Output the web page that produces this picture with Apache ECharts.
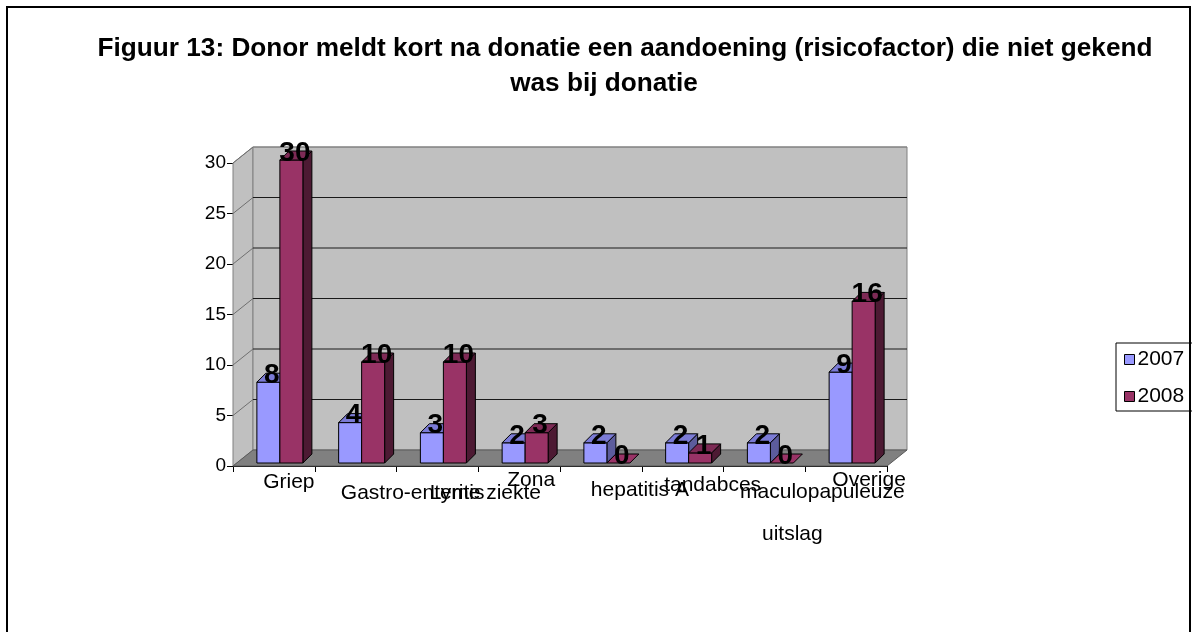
<!DOCTYPE html>
<html>
<head>
<meta charset="utf-8">
<script src="https://cdn.jsdelivr.net/npm/echarts@6/dist/echarts.min.js"></script>
<style>
  html, body { margin: 0; padding: 0; background: #ffffff; }
  #chart { width: 1192px; height: 632px; }
</style>
</head>
<body>
<div id="chart"></div>
<script>
// Reported conditions per category, per year
const categories = ['Griep', 'Gastro-enteritis', 'Lyme ziekte', 'Zona', 'hepatitis A', 'tandabces', 'maculopapuleuze uitslag', 'Overige'];
const values2007 = [8, 4, 3, 2, 2, 2, 2, 9];
const values2008 = [30, 10, 10, 3, 0, 1, 0, 16];
const yearNames = ['2007', '2008'];
const yTicks = [0, 5, 10, 15, 20, 25, 30];

// 3D look: depth of the walls and of the bars
const WALL_DX = 20, WALL_DY = -16;
const BAR_DX = 9, BAR_DY = -9;
const BAR_W = 23;
const BAR_LEFT = [-17, 6];          // left edge of each year's bar from category centre
const BAR_SET_BACK = -3;            // bars stand slightly behind the front edge
const FONT = '"Liberation Sans", Arial, sans-serif';

const palette = [
  { front: '#9999ff', top: '#7b7bd6', side: '#5c5c9c' },
  { front: '#993366', top: '#7d2a55', side: '#4d1a33' }
];

// Staggered category label placement: [centre offset, top padding] per text line
const labelLayout = [
  [[15, 6]],
  [[57, 28]],
  [[48, 28]],
  [[12, 2]],
  [[39, 22]],
  [[30, 12]],
  [[58, 26], [28, 66]],
  [[23, 2]]
];

const rich = {};
labelLayout.forEach((lines, i) => {
  lines.forEach((l, j) => {
    const dx = l[0];
    rich['c' + i + '_' + j] = {
      fontSize: 21, fontFamily: FONT, color: '#000', lineHeight: 22,
      padding: [l[1], dx < 0 ? -2 * dx : 0, 0, dx > 0 ? 2 * dx : 0]
    };
  });
});

function wallsItem(params, api) {
  const cs = params.coordSys;
  const gx = cs.x, gy = cs.y, gw = cs.width, gh = cs.height;
  const children = [];
  children.push({
    type: 'polygon',
    shape: { points: [[gx, gy], [gx + WALL_DX, gy + WALL_DY], [gx + WALL_DX, gy + gh + WALL_DY], [gx, gy + gh]] },
    style: { fill: '#c0c0c0', stroke: '#808080', lineWidth: 1 }
  });
  children.push({
    type: 'rect',
    shape: { x: gx + WALL_DX, y: gy + WALL_DY, width: gw, height: gh },
    style: { fill: '#c0c0c0', stroke: '#808080', lineWidth: 1 }
  });
  yTicks.forEach(v => {
    if (v === 0) return;
    const y = api.coord([0, v])[1];
    children.push({
      type: 'line',
      shape: { x1: gx + WALL_DX, y1: y + WALL_DY, x2: gx + gw + WALL_DX, y2: y + WALL_DY },
      style: { stroke: v === yTicks[yTicks.length - 1] ? '#808080' : '#1a1a1a', lineWidth: 1 }
    });
    children.push({
      type: 'line',
      shape: { x1: gx, y1: y, x2: gx + WALL_DX, y2: y + WALL_DY },
      style: { stroke: '#707070', lineWidth: 1 }
    });
  });
  children.push({
    type: 'polygon',
    shape: { points: [[gx, gy + gh], [gx + WALL_DX, gy + gh + WALL_DY], [gx + gw + WALL_DX, gy + gh + WALL_DY], [gx + gw, gy + gh]] },
    style: { fill: '#808080', stroke: '#5a5a5a', lineWidth: 1 }
  });
  return { type: 'group', children: children };
}

function barItem(k) {
  const col = palette[k];
  return function (params, api) {
    const i = api.value(0), v = api.value(1);
    const base = api.coord([i, 0]);
    const tip = api.coord([i, v]);
    const x0 = base[0] + BAR_LEFT[k];
    const x1 = x0 + BAR_W;
    const yb = base[1] + BAR_SET_BACK;
    const yt = tip[1] + BAR_SET_BACK;
    const children = [];
    if (yb - yt > 0) {
      children.push({
        type: 'polygon',
        shape: { points: [[x1, yt], [x1 + BAR_DX, yt + BAR_DY], [x1 + BAR_DX, yb + BAR_DY], [x1, yb]] },
        style: { fill: col.side, stroke: '#000', lineWidth: 1 }
      });
      children.push({
        type: 'rect',
        shape: { x: x0, y: yt, width: BAR_W, height: yb - yt },
        style: { fill: col.front, stroke: '#000', lineWidth: 1 }
      });
    }
    children.push({
      type: 'polygon',
      shape: { points: [[x0, yt], [x1, yt], [x1 + BAR_DX, yt + BAR_DY], [x0 + BAR_DX, yt + BAR_DY]] },
      style: { fill: yb - yt > 0 ? col.top : col.front, stroke: '#000', lineWidth: 1 }
    });
    children.push({
      type: 'text',
      z2: 100,
      style: {
        text: String(v), x: x0 + BAR_W / 2 + 3.5, y: yt - 7,
        align: 'center', verticalAlign: 'middle',
        fill: '#000', font: 'bold 28px ' + FONT
      }
    });
    return { type: 'group', children: children };
  };
}

const chart = echarts.init(document.getElementById('chart'), null, { renderer: 'canvas' });

chart.setOption({
  backgroundColor: '#ffffff',
  animation: false,
  title: [
    {
      text: 'Figuur 13: Donor meldt kort na donatie een aandoening (risicofactor) die niet gekend',
      left: 620, top: 31, textAlign: 'center',
      textStyle: { fontFamily: FONT, fontWeight: 'bold', fontSize: 26.2, color: '#000' }
    },
    {
      text: 'was bij donatie',
      left: 599, top: 66, textAlign: 'center',
      textStyle: { fontFamily: FONT, fontWeight: 'bold', fontSize: 26.2, color: '#000' }
    }
  ],
  legend: {
    data: yearNames,
    orient: 'vertical',
    left: 1116, top: 343,
    padding: [6, 12, 4, 8],
    itemWidth: 10, itemHeight: 10, itemGap: 16,
    icon: 'rect',
    backgroundColor: '#ffffff',
    borderColor: '#000', borderWidth: 1, borderRadius: 0,
    itemStyle: { borderColor: '#000', borderWidth: 1 },
    textStyle: { fontFamily: FONT, fontSize: 21, color: '#000', padding: [0, 0, 0, -2] }
  },
  grid: { left: 233, top: 163, width: 654, height: 303 },
  xAxis: {
    type: 'category',
    data: categories,
    boundaryGap: true,
    axisLine: { show: true, lineStyle: { color: '#000', width: 1 } },
    axisTick: { show: true, length: 6, lineStyle: { color: '#000' } },
    axisLabel: {
      interval: 0, margin: 2, color: '#000',
      formatter: function (value, index) {
        const lines = labelLayout[index].length > 1 ? value.split(' ') : [value];
        return lines.map((t, j) => '{c' + index + '_' + j + '|' + t + '}').join('\n');
      },
      rich: rich
    },
    splitLine: { show: false }
  },
  yAxis: {
    type: 'value',
    min: 0, max: 30, interval: 5,
    axisLine: { show: true, lineStyle: { color: '#000', width: 1 } },
    axisTick: { show: true, length: 6, lineStyle: { color: '#000' } },
    axisLabel: { color: '#000', fontSize: 19, fontFamily: FONT, margin: 7 },
    splitLine: { show: false }
  },
  series: [
    {
      type: 'custom', name: 'walls', silent: true, z: 1,
      renderItem: wallsItem,
      data: [[0, 0]]
    },
    {
      type: 'custom', name: yearNames[0], z: 2,
      itemStyle: { color: palette[0].front },
      renderItem: barItem(0),
      encode: { x: 0, y: 1 },
      data: values2007.map((v, i) => [i, v])
    },
    {
      type: 'custom', name: yearNames[1], z: 2,
      itemStyle: { color: palette[1].front },
      renderItem: barItem(1),
      encode: { x: 0, y: 1 },
      data: values2008.map((v, i) => [i, v])
    }
  ],
  graphic: [
    {
      type: 'rect', z: 100, silent: true,
      shape: { x: 7, y: 7, width: 1183, height: 700 },
      style: { fill: 'none', stroke: '#000', lineWidth: 2 }
    }
  ]
});
</script>
</body>
</html>
